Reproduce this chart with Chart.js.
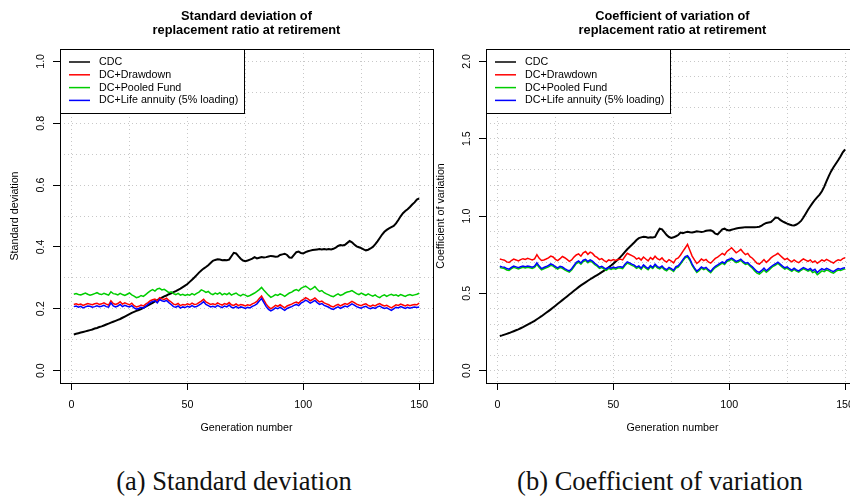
<!DOCTYPE html>
<html>
<head>
<meta charset="utf-8">
<script src="https://cdn.jsdelivr.net/npm/chart.js@4.4.1/dist/chart.umd.min.js"></script>
<style>
  html, body { margin: 0; padding: 0; width: 850px; height: 498px; overflow: hidden; background: #fff; }
  canvas { position: absolute; top: 0; }
  #sdChart { left: 0; }
  #cvChart { left: 425px; }
  .caption { position: absolute; top: 468px; font-family: 'Liberation Serif', 'Times New Roman', serif;
             font-size: 26.5px; line-height: 1; white-space: nowrap; transform: translateX(-50%); color: #111; }
</style>
</head>
<body>
<canvas id="sdChart" width="440" height="445"></canvas>
<canvas id="cvChart" width="445" height="445"></canvas>
<div class="caption" style="left:234px">(a) Standard deviation</div>
<div class="caption" style="left:660px">(b) Coefficient of variation</div>
<script>
  'use strict';

  var seriesNames = ['CDC', 'DC+Drawdown', 'DC+Pooled Fund', 'DC+Life annuity (5% loading)'];
  var seriesColors = ['#000000', '#ff0000', '#00cd00', '#0000ff'];

  var xGridTicks = [0, 25, 50, 75, 100, 125, 150];
  var xLabelTicks = [0, 50, 100, 150];
  var sdGridTicks = [0, 0.1, 0.2, 0.3, 0.4, 0.5, 0.6, 0.7, 0.8, 0.9, 1.0];
  var sdLabelTicks = [0, 0.2, 0.4, 0.6, 0.8, 1.0];
  var cvGridTicks = [0, 0.1, 0.2, 0.3, 0.4, 0.5, 0.6, 0.7, 0.8, 0.9, 1.0,
                     1.1, 1.2, 1.3, 1.4, 1.5, 1.6, 1.7, 1.8, 1.9, 2.0];
  var cvLabelTicks = [0, 0.5, 1.0, 1.5, 2.0];

  // generation number 1..150
  var generations = [];
  for (var g = 1; g <= 150; g++) generations.push(g);

  // standard deviation of replacement ratio
  var sdCDC = [
    0.117,0.119,0.121,0.123,0.125,0.127,0.129,0.131,0.133,0.136,
    0.138,0.141,0.143,0.146,0.149,0.152,0.155,0.158,0.161,0.164,
    0.167,0.171,0.175,0.179,0.183,0.187,0.190,0.193,0.196,0.199,
    0.203,0.207,0.211,0.215,0.219,0.224,0.228,0.232,0.236,0.240,
    0.243,0.247,0.250,0.254,0.257,0.261,0.265,0.270,0.275,0.280,
    0.287,0.294,0.301,0.309,0.317,0.324,0.330,0.335,0.341,0.348,
    0.355,0.358,0.360,0.359,0.357,0.358,0.357,0.359,0.370,0.381,
    0.379,0.370,0.362,0.356,0.354,0.356,0.359,0.362,0.367,0.363,
    0.365,0.367,0.366,0.367,0.369,0.371,0.370,0.368,0.369,0.374,
    0.376,0.378,0.374,0.366,0.365,0.374,0.383,0.385,0.380,0.379,
    0.383,0.386,0.388,0.390,0.391,0.392,0.393,0.392,0.393,0.392,
    0.393,0.392,0.394,0.398,0.403,0.406,0.405,0.407,0.413,0.419,
    0.415,0.408,0.402,0.399,0.396,0.392,0.389,0.391,0.395,0.400,
    0.408,0.418,0.429,0.440,0.449,0.455,0.460,0.464,0.468,0.476,
    0.487,0.499,0.509,0.516,0.522,0.529,0.537,0.544,0.553,0.557];
  var sdDrawdown = [
    0.214,0.216,0.213,0.215,0.211,0.214,0.217,0.215,0.213,0.216,
    0.218,0.214,0.216,0.219,0.215,0.212,0.226,0.217,0.214,0.217,
    0.223,0.215,0.219,0.216,0.213,0.218,0.210,0.206,0.208,0.212,
    0.209,0.215,0.220,0.226,0.229,0.231,0.225,0.236,0.232,0.230,
    0.234,0.227,0.222,0.215,0.213,0.217,0.210,0.214,0.212,0.216,
    0.213,0.218,0.214,0.215,0.220,0.225,0.231,0.222,0.218,0.214,
    0.216,0.213,0.219,0.215,0.212,0.217,0.214,0.220,0.213,0.211,
    0.216,0.210,0.214,0.212,0.209,0.213,0.211,0.216,0.219,0.224,
    0.233,0.241,0.228,0.215,0.206,0.200,0.205,0.211,0.208,0.213,
    0.208,0.203,0.209,0.212,0.215,0.219,0.222,0.218,0.226,0.230,
    0.236,0.232,0.226,0.230,0.235,0.228,0.222,0.225,0.219,0.216,
    0.213,0.208,0.206,0.211,0.214,0.209,0.213,0.217,0.214,0.219,
    0.224,0.220,0.215,0.212,0.210,0.214,0.216,0.211,0.208,0.212,
    0.209,0.214,0.217,0.212,0.209,0.211,0.207,0.203,0.208,0.213,
    0.211,0.215,0.212,0.209,0.213,0.210,0.212,0.214,0.213,0.218];
  var sdPooled = [
    0.247,0.249,0.246,0.245,0.248,0.251,0.247,0.244,0.246,0.249,
    0.252,0.248,0.246,0.250,0.247,0.244,0.255,0.249,0.248,0.245,
    0.250,0.246,0.243,0.247,0.251,0.245,0.241,0.236,0.238,0.243,
    0.240,0.246,0.252,0.258,0.262,0.257,0.264,0.266,0.261,0.263,
    0.258,0.252,0.255,0.249,0.246,0.250,0.244,0.247,0.243,0.246,
    0.244,0.249,0.245,0.250,0.254,0.261,0.258,0.253,0.256,0.249,
    0.246,0.251,0.247,0.252,0.245,0.249,0.246,0.251,0.244,0.248,
    0.251,0.245,0.242,0.247,0.244,0.240,0.243,0.247,0.251,0.256,
    0.262,0.269,0.260,0.252,0.244,0.237,0.241,0.246,0.243,0.248,
    0.245,0.240,0.246,0.251,0.254,0.259,0.262,0.258,0.266,0.270,
    0.273,0.268,0.262,0.266,0.272,0.263,0.256,0.259,0.252,0.248,
    0.245,0.241,0.239,0.244,0.248,0.243,0.246,0.251,0.254,0.256,
    0.259,0.254,0.249,0.246,0.251,0.247,0.243,0.248,0.244,0.241,
    0.245,0.239,0.236,0.242,0.245,0.240,0.244,0.247,0.243,0.245,
    0.241,0.246,0.243,0.240,0.244,0.246,0.243,0.245,0.247,0.250];
  var sdAnnuity = [
    0.207,0.209,0.205,0.208,0.203,0.206,0.209,0.208,0.205,0.207,
    0.210,0.207,0.208,0.211,0.207,0.205,0.219,0.209,0.206,0.209,
    0.214,0.207,0.211,0.208,0.206,0.210,0.203,0.199,0.201,0.205,
    0.202,0.208,0.214,0.220,0.224,0.226,0.219,0.230,0.226,0.224,
    0.227,0.220,0.214,0.207,0.205,0.209,0.202,0.206,0.204,0.208,
    0.205,0.210,0.206,0.207,0.212,0.217,0.223,0.214,0.210,0.206,
    0.208,0.205,0.211,0.207,0.204,0.209,0.206,0.212,0.205,0.203,
    0.208,0.202,0.206,0.204,0.201,0.205,0.203,0.208,0.211,0.216,
    0.225,0.233,0.220,0.207,0.198,0.193,0.197,0.203,0.200,0.205,
    0.200,0.195,0.201,0.204,0.207,0.211,0.214,0.210,0.218,0.222,
    0.228,0.224,0.218,0.222,0.227,0.220,0.214,0.217,0.211,0.208,
    0.205,0.200,0.198,0.203,0.206,0.201,0.205,0.209,0.206,0.211,
    0.216,0.212,0.207,0.204,0.202,0.206,0.208,0.203,0.200,0.204,
    0.201,0.206,0.209,0.204,0.201,0.203,0.199,0.195,0.200,0.205,
    0.203,0.207,0.204,0.201,0.205,0.202,0.204,0.206,0.204,0.206];

  // coefficient of variation of replacement ratio
  var cvCDC = [
    0.224,0.228,0.233,0.238,0.243,0.249,0.255,0.261,0.267,0.274,
    0.281,0.289,0.297,0.305,0.313,0.322,0.332,0.342,0.352,0.363,
    0.374,0.385,0.396,0.408,0.420,0.432,0.444,0.456,0.468,0.480,
    0.492,0.504,0.516,0.528,0.540,0.551,0.561,0.571,0.581,0.591,
    0.600,0.609,0.618,0.627,0.637,0.647,0.658,0.669,0.680,0.692,
    0.705,0.719,0.734,0.750,0.768,0.785,0.800,0.814,0.829,0.845,
    0.857,0.862,0.866,0.864,0.860,0.862,0.861,0.865,0.893,0.918,
    0.914,0.896,0.877,0.864,0.858,0.862,0.869,0.877,0.893,0.889,
    0.894,0.898,0.895,0.893,0.897,0.901,0.899,0.897,0.899,0.904,
    0.906,0.907,0.900,0.886,0.881,0.897,0.914,0.918,0.909,0.907,
    0.911,0.915,0.919,0.922,0.924,0.926,0.928,0.927,0.928,0.927,
    0.928,0.929,0.931,0.938,0.948,0.955,0.958,0.961,0.975,0.990,
    0.988,0.975,0.965,0.958,0.951,0.945,0.940,0.939,0.945,0.955,
    0.968,0.990,1.015,1.040,1.063,1.085,1.105,1.122,1.138,1.160,
    1.190,1.225,1.260,1.290,1.315,1.338,1.360,1.385,1.412,1.430];
  var cvDrawdown = [
    0.722,0.718,0.714,0.703,0.699,0.712,0.721,0.716,0.709,0.718,
    0.724,0.719,0.726,0.721,0.716,0.723,0.750,0.726,0.712,0.716,
    0.722,0.729,0.741,0.735,0.720,0.711,0.724,0.738,0.730,0.719,
    0.707,0.716,0.734,0.748,0.755,0.740,0.762,0.770,0.752,0.766,
    0.758,0.741,0.732,0.718,0.724,0.712,0.703,0.716,0.711,0.718,
    0.712,0.719,0.721,0.716,0.738,0.759,0.751,0.744,0.736,0.721,
    0.729,0.715,0.735,0.722,0.710,0.731,0.719,0.740,0.724,0.716,
    0.729,0.711,0.702,0.718,0.708,0.697,0.722,0.729,0.748,0.771,
    0.793,0.816,0.779,0.741,0.716,0.693,0.705,0.722,0.711,0.719,
    0.703,0.695,0.711,0.726,0.734,0.746,0.758,0.748,0.771,0.782,
    0.795,0.779,0.762,0.772,0.784,0.766,0.750,0.758,0.737,0.727,
    0.710,0.694,0.689,0.702,0.718,0.700,0.713,0.729,0.740,0.749,
    0.759,0.745,0.731,0.718,0.726,0.713,0.703,0.716,0.705,0.698,
    0.711,0.722,0.715,0.706,0.716,0.700,0.710,0.695,0.705,0.716,
    0.708,0.719,0.711,0.703,0.696,0.709,0.717,0.712,0.724,0.730];
  var cvPooled = [
    0.667,0.663,0.660,0.651,0.648,0.659,0.668,0.663,0.657,0.664,
    0.669,0.664,0.668,0.665,0.661,0.667,0.688,0.667,0.652,0.659,
    0.665,0.671,0.681,0.676,0.664,0.656,0.667,0.662,0.652,0.644,
    0.637,0.651,0.672,0.693,0.701,0.688,0.706,0.712,0.698,0.708,
    0.700,0.686,0.675,0.661,0.667,0.656,0.648,0.661,0.655,0.662,
    0.656,0.663,0.664,0.660,0.680,0.695,0.689,0.681,0.674,0.661,
    0.669,0.655,0.676,0.663,0.652,0.671,0.660,0.680,0.665,0.658,
    0.669,0.653,0.645,0.660,0.651,0.641,0.664,0.670,0.689,0.710,
    0.729,0.736,0.714,0.681,0.657,0.635,0.647,0.663,0.653,0.660,
    0.645,0.633,0.652,0.667,0.676,0.686,0.696,0.687,0.706,0.712,
    0.720,0.710,0.698,0.704,0.713,0.698,0.687,0.691,0.675,0.662,
    0.645,0.630,0.624,0.636,0.651,0.636,0.648,0.663,0.675,0.683,
    0.693,0.681,0.668,0.657,0.663,0.651,0.642,0.655,0.644,0.637,
    0.649,0.658,0.652,0.644,0.651,0.634,0.641,0.620,0.632,0.645,
    0.640,0.651,0.645,0.636,0.630,0.642,0.650,0.647,0.653,0.659];
  var cvAnnuity = [
    0.675,0.671,0.669,0.660,0.656,0.667,0.676,0.671,0.665,0.672,
    0.677,0.672,0.676,0.673,0.669,0.675,0.697,0.676,0.660,0.667,
    0.673,0.680,0.690,0.684,0.672,0.664,0.675,0.670,0.660,0.652,
    0.645,0.659,0.680,0.701,0.709,0.696,0.714,0.720,0.706,0.716,
    0.708,0.694,0.683,0.669,0.675,0.664,0.656,0.669,0.663,0.670,
    0.664,0.671,0.672,0.668,0.688,0.703,0.697,0.689,0.682,0.669,
    0.677,0.663,0.684,0.671,0.660,0.679,0.668,0.688,0.673,0.666,
    0.677,0.661,0.653,0.668,0.659,0.649,0.672,0.678,0.697,0.718,
    0.737,0.744,0.722,0.689,0.665,0.643,0.655,0.671,0.661,0.668,
    0.653,0.641,0.660,0.675,0.684,0.694,0.704,0.695,0.714,0.720,
    0.728,0.718,0.706,0.712,0.721,0.706,0.695,0.699,0.683,0.671,
    0.656,0.641,0.635,0.648,0.663,0.646,0.658,0.672,0.683,0.691,
    0.701,0.689,0.676,0.665,0.671,0.659,0.650,0.663,0.652,0.645,
    0.657,0.666,0.660,0.652,0.661,0.646,0.655,0.634,0.648,0.660,
    0.652,0.662,0.655,0.647,0.640,0.652,0.660,0.656,0.662,0.666];

  Chart.defaults.font.family = "'Liberation Sans', Arial, Helvetica, sans-serif";
  Chart.defaults.font.size = 10.7;
  Chart.defaults.color = '#000';

  var gridColor = '#c8c8c8';

  function isOn(value, list) {
    return list.some(function (t) { return Math.abs(t - value) < 1e-6; });
  }

  // R style box, white legend and two line bold title
  var rFrame = {
    id: 'rFrame',
    afterDraw: function (chart, args, opts) {
      var ctx = chart.ctx;
      var a = chart.chartArea;
      ctx.save();
      ctx.strokeStyle = '#000';
      ctx.lineWidth = 1;
      ctx.strokeRect(a.left + 0.5, a.top + 0.5, a.right - a.left, a.bottom - a.top);

      var lw = 184, lh = 64;
      ctx.fillStyle = '#fff';
      ctx.fillRect(a.left + 0.5, a.top + 0.5, lw, lh);
      ctx.strokeRect(a.left + 0.5, a.top + 0.5, lw, lh);
      ctx.font = "10.7px 'Liberation Sans', Arial, sans-serif";
      ctx.textBaseline = 'middle';
      ctx.textAlign = 'left';
      chart.data.datasets.forEach(function (ds, i) {
        var y = a.top + 13 + i * 12.8;
        ctx.strokeStyle = ds.borderColor;
        ctx.lineWidth = 1.5;
        ctx.beginPath();
        ctx.moveTo(a.left + 9, y);
        ctx.lineTo(a.left + 30, y);
        ctx.stroke();
        ctx.fillStyle = '#000';
        ctx.fillText(ds.label, a.left + 39, y);
      });

      ctx.font = "bold 12.8px 'Liberation Sans', Arial, sans-serif";
      ctx.textAlign = 'center';
      ctx.textBaseline = 'alphabetic';
      var cx = (a.left + a.right) / 2;
      opts.lines.forEach(function (t, i) {
        ctx.fillText(t, cx, 19.5 + i * 14.8);
      });
      ctx.restore();
    }
  };

  function makeChart(id, cfg) {
    var ctx = document.getElementById(id).getContext('2d');
    var tickColor = function (list) {
      return function (c) { return isOn(c.tick.value, list) ? '#000' : 'rgba(0,0,0,0)'; };
    };
    return new Chart(ctx, {
      type: 'line',
      data: {
        datasets: cfg.series.map(function (arr, i) {
          return {
            label: seriesNames[i],
            data: arr.map(function (v, j) { return { x: generations[j], y: v }; }),
            borderColor: seriesColors[i],
            borderWidth: i === 0 ? 2 : 1.5,
            pointRadius: 0,
            tension: 0,
            fill: false,
            order: 4 - i
          };
        })
      },
      options: {
        responsive: false,
        animation: false,
        layout: { padding: { top: 49, left: 0, right: cfg.rightPad, bottom: 10.3 } },
        plugins: {
          legend: { display: false },
          tooltip: { enabled: false },
          rFrame: { lines: cfg.title }
        },
        scales: {
          x: {
            type: 'linear',
            min: -4.96,
            max: 155.96,
            afterBuildTicks: function (s) { s.ticks = xGridTicks.map(function (v) { return { value: v }; }); },
            afterFit: function (s) { s.height = 51.7; },
            grid: { color: gridColor, lineWidth: 1, tickLength: 7, tickWidth: 1,
                    tickColor: tickColor(xLabelTicks), tickBorderDash: [] },
            border: { display: false, dash: [1, 3] },
            ticks: {
              autoSkip: false, maxRotation: 0, padding: 8.3,
              callback: function (v) { return isOn(v, xLabelTicks) ? String(v) : ''; }
            },
            title: { display: true, text: 'Generation number', padding: 0 }
          },
          y: {
            type: 'linear',
            min: cfg.yMin,
            max: cfg.yMax,
            afterBuildTicks: function (s) { s.ticks = cfg.yGrid.map(function (v) { return { value: v }; }); },
            afterFit: function (s) { s.width = cfg.yWidth; },
            grid: { color: gridColor, lineWidth: 1, tickLength: 7, tickWidth: 1,
                    tickColor: tickColor(cfg.yLabels), tickBorderDash: [] },
            border: { display: false, dash: [1, 3] },
            ticks: {
              autoSkip: false, minRotation: 90, maxRotation: 90, crossAlign: 'center', padding: 4.6,
              callback: function (v) { return isOn(v, cfg.yLabels) ? v.toFixed(1) : ''; }
            },
            title: { display: true, text: cfg.yTitle, padding: { top: cfg.yTitlePad, bottom: 0 } }
          }
        }
      },
      plugins: [rFrame]
    });
  }

  window.sdChart = makeChart('sdChart', {
    title: ['Standard deviation of', 'replacement ratio at retirement'],
    yTitle: 'Standard deviation',
    yMin: -0.04, yMax: 1.04,
    yGrid: sdGridTicks, yLabels: sdLabelTicks,
    yWidth: 60, yTitlePad: 8.6, rightPad: 7,
    series: [sdCDC, sdDrawdown, sdPooled, sdAnnuity]
  });

  window.cvChart = makeChart('cvChart', {
    title: ['Coefficient of variation of', 'replacement ratio at retirement'],
    yTitle: 'Coefficient of variation',
    yMin: -0.08, yMax: 2.08,
    yGrid: cvGridTicks, yLabels: cvLabelTicks,
    yWidth: 61, yTitlePad: 9.6, rightPad: 11.1,
    series: [cvCDC, cvDrawdown, cvPooled, cvAnnuity]
  });
</script>
</body>
</html>
